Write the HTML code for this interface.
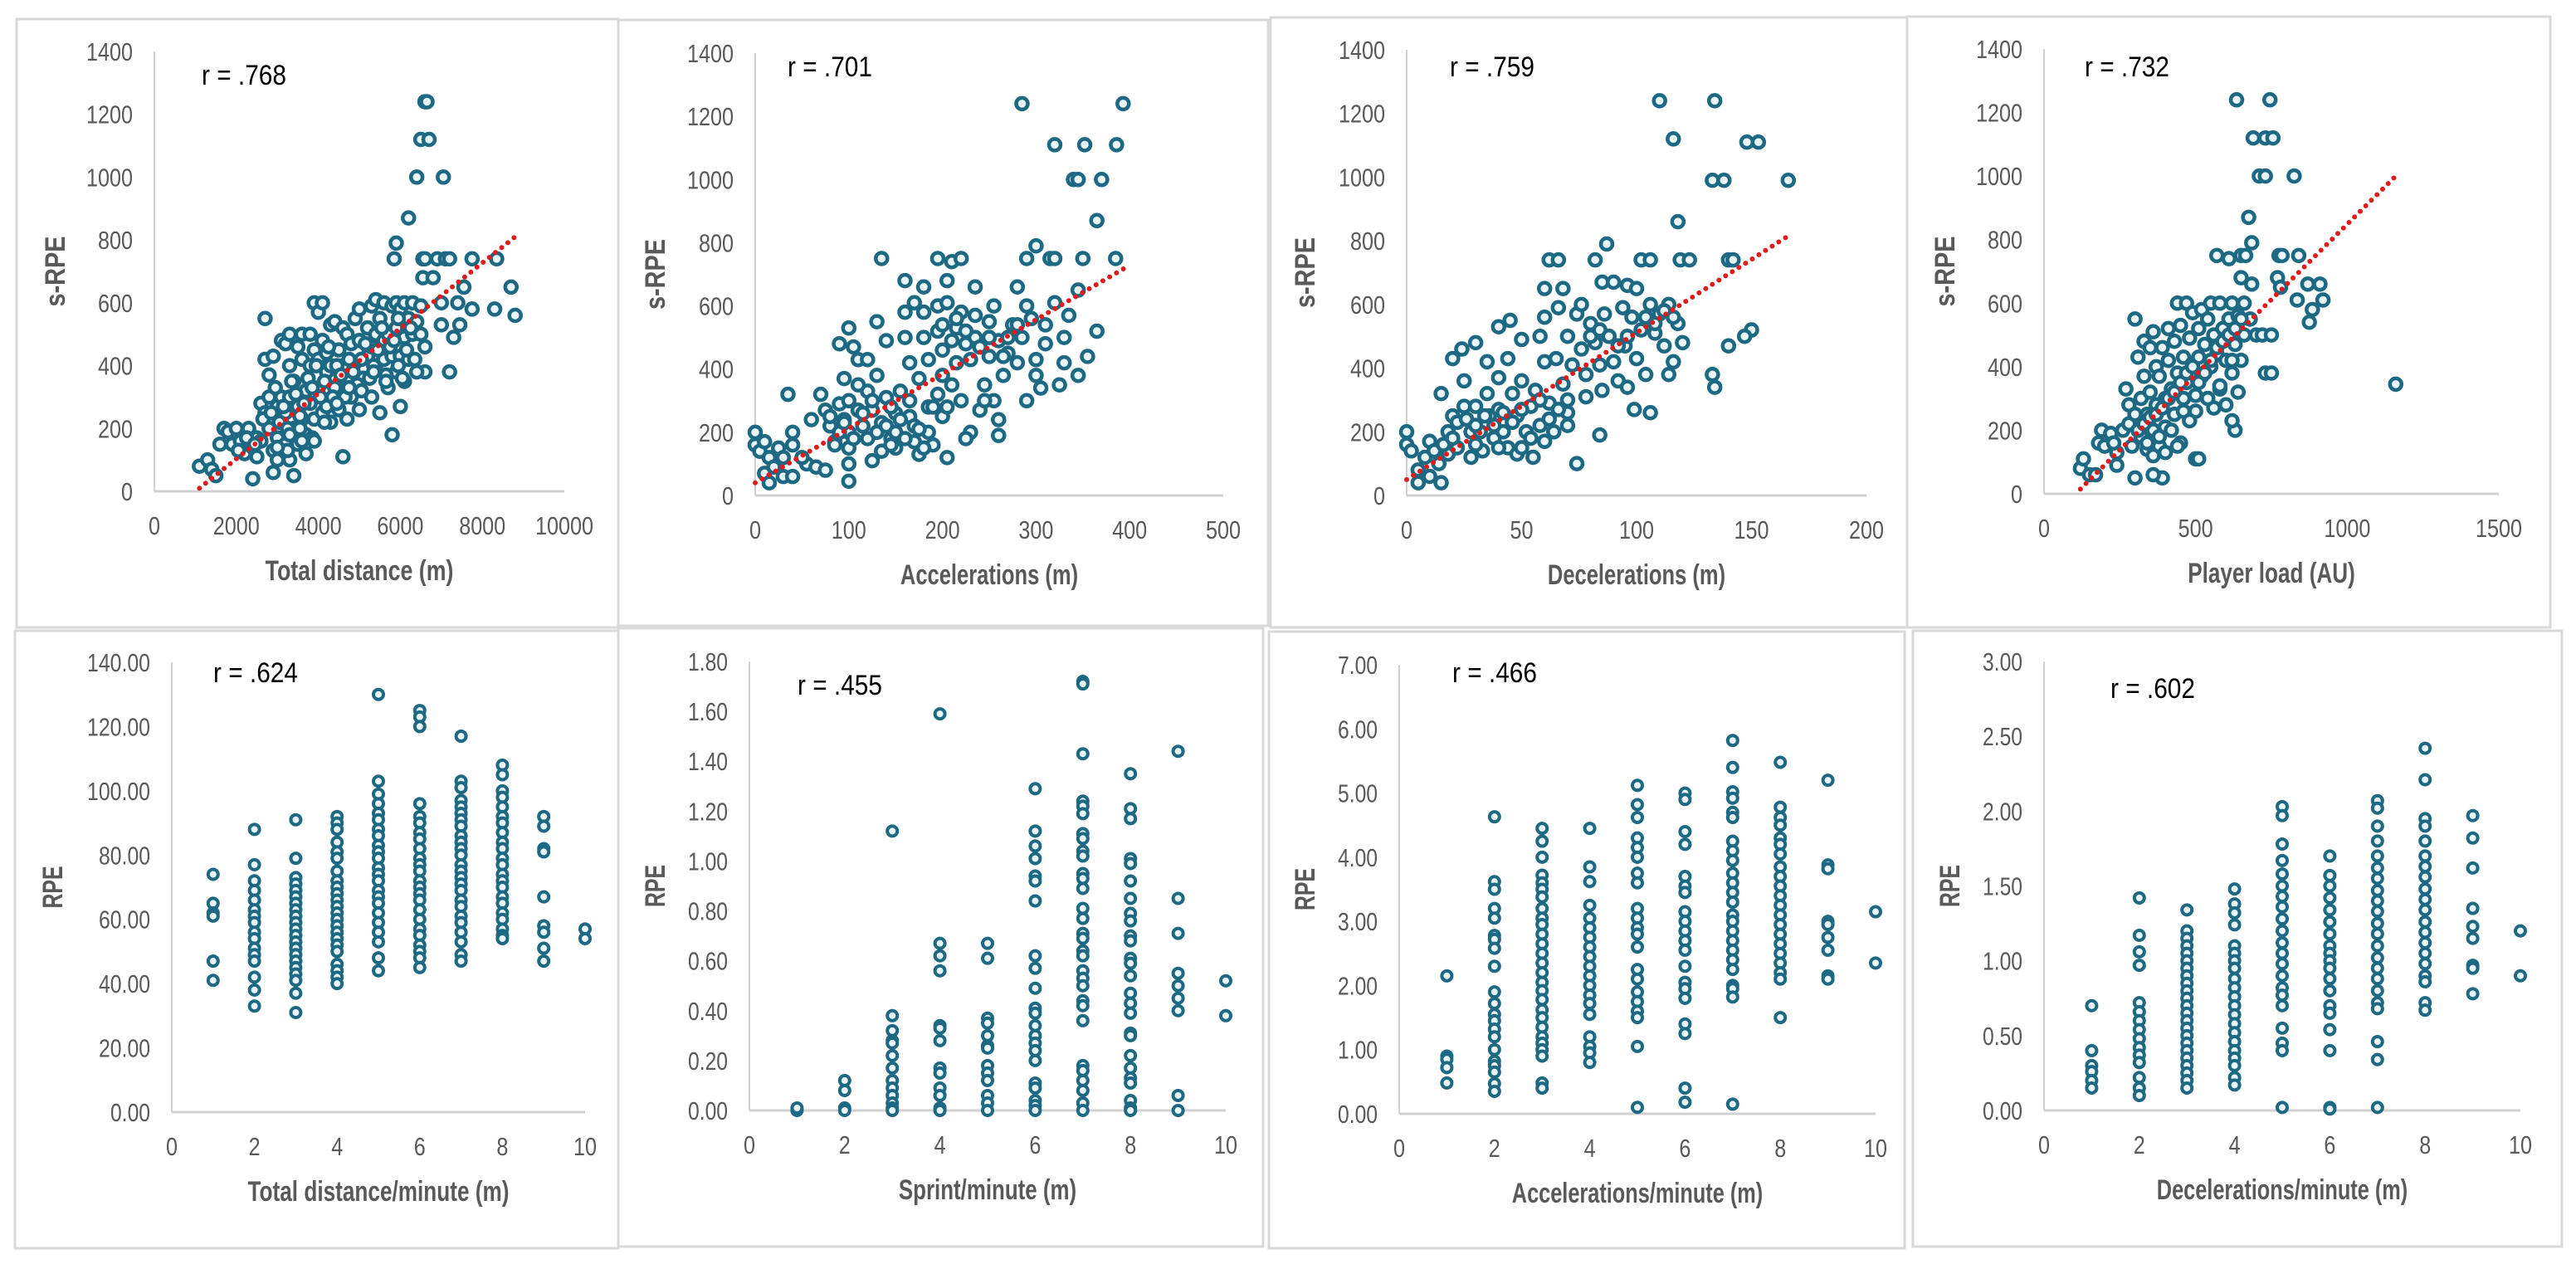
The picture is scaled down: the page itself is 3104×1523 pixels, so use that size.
<!DOCTYPE html>
<html><head><meta charset="utf-8">
<style>
html,body{margin:0;padding:0;background:#fff;}
svg{display:block;}
text{font-family:"Liberation Sans",sans-serif;}
</style></head>
<body>
<svg id="fig" width="3104" height="1523" viewBox="0 0 3104 1523" xmlns="http://www.w3.org/2000/svg"></svg>
<script>
// ---------- Panel 1: Total distance ----------
const p1X = [6600,6650,6500,6700,6400,7050,6200,5900,5850,6550,6600,6900,7100,7200,7750,8350,6550,6800,7550,8700,7000,7400,7750,8300,8800,7450,7000,7300,6600,6600,7200,5800,4600,2700,1100,1300,1400,1500,1700,1600,
1800,1900,2000,2100,2200,2300,2400,2400,2500,2500,2600,2600,2700,2700,2800,2800,2800,2900,2900,2900,3000,3000,3000,3100,3100,3100,3200,3200,3200,3300,3300,3300,3300,3400,3400,3400,3500,3500,3500,3600,3600,3600,3700,3700,3700,3800,3800,3800,3900,3900,3900,4000,4000,4000,4100,4100,4100,4200,4200,4200,4300,4300,4300,4400,4400,4500,4500,4600,4600,4700,4700,4700,4800,4800,4900,4900,5000,5000,5000,5100,5200,5200,5300,5300,5300,5400,5400,5400,5500,5500,5600,5600,5600,5700,5700,5800,5800,5900,5900,5900,6000,6000,6000,6100,6100,6100,6200,6200,6300,6300,6400,6400,6500,6500,
2050,2250,2450,2650,2850,2950,3050,3150,3250,3350,3450,3550,3650,3750,3850,3950,4050,4150,4250,4350,4450,4550,4650,4750,4850,4950,5050,5150,5250,5350,5450,5550,5650,5750,5850,5950,6050,6150,6250,6350,3250,3550,3850,4150,4450,4750,5050,5350,5650,5950,3000,3300,3600,3900];
const p1Y = [1240,1240,1120,1120,1000,1000,870,790,740,740,740,740,740,740,740,740,680,680,650,650,600,600,580,580,560,530,530,490,460,380,380,180,110,550,80,100,70,50,200,150,
190,150,200,160,120,200,40,140,170,110,280,160,420,250,370,300,200,430,130,60,270,170,100,480,300,220,470,250,150,500,400,300,100,350,200,50,460,270,150,500,420,230,320,180,120,500,400,280,600,450,230,570,420,330,600,480,250,440,380,270,530,400,220,540,330,450,260,520,400,500,350,230,470,300,550,410,580,480,260,360,520,430,590,460,300,610,500,400,550,250,600,480,420,500,330,590,430,600,520,380,580,430,270,600,490,350,550,420,600,500,540,380,500,590,
130,170,150,230,250,330,220,270,200,350,310,240,280,360,330,400,300,350,460,300,400,370,300,420,380,340,420,470,360,400,450,520,370,460,480,550,360,450,520,420,130,200,170,220,280,330,320,380,350,400,140,180,160,160];
const p1Trend = [[1100,10],[8800,810]];
const p1XTicks = [0,2000,4000,6000,8000,10000];
const p1YTicks = [0,200,400,600,800,1000,1200,1400];

// ---------- Panel 2: Accelerations ----------
const p2X = [285,393,320,352,386,340,345,370,365,300,135,195,210,220,290,315,320,350,385,160,205,180,235,280,345,365,355,345,325,305,0,0,5,10,15,10,15,25,30,35,40,40,40,55,60,65,75,100,100,
70,75,80,85,90,90,95,100,100,100,100,105,110,110,115,120,120,120,125,125,130,130,135,140,140,145,150,150,155,160,160,165,165,170,170,175,175,180,180,185,185,190,195,195,200,200,200,205,205,210,215,215,220,220,225,230,230,235,235,240,245,250,250,255,255,260,260,260,265,270,275,280,285,290,290,295,300,300,310,320,330,330,335,
80,90,95,105,110,115,125,130,140,145,150,155,160,165,170,180,185,190,195,200,210,215,225,240,250,265,270,280,310,20,30,50,85,95,135,145,175,205,225,245];
const p2Y = [1240,1240,1110,1110,1110,1000,1000,1000,870,790,750,750,740,750,750,750,750,750,750,680,680,660,660,660,650,520,440,380,350,340,200,160,140,170,120,70,40,150,60,320,200,160,60,100,240,90,80,45,100,
320,270,220,170,290,480,370,530,300,200,150,470,430,270,220,430,330,180,270,110,550,380,230,490,310,180,260,150,330,580,500,420,250,610,170,130,370,580,500,430,280,160,600,520,460,380,250,610,120,350,530,420,580,300,480,200,430,570,500,270,350,550,440,600,300,490,240,190,380,450,540,420,500,600,300,560,430,380,540,610,500,420,570,
250,200,240,180,350,260,300,200,220,280,200,240,180,300,220,150,200,280,320,540,490,560,520,470,500,440,500,540,480,90,120,120,160,230,140,160,210,280,180,300];
const p2Trend = [[0,40],[395,720]];
const p2XTicks = [0,100,200,300,400,500];
const p2YTicks = [0,200,400,600,800,1000,1200,1400];

// ---------- Panel 3: Decelerations ----------
const p3X = [110,134,116,148,153,133,138,166,118,87,62,66,82,102,106,119,123,140,142,60,68,85,90,96,100,150,147,140,133,134,74,84,106,99,40,45,0,0,2,5,5,10,15,15,
8,10,14,18,18,20,20,22,24,25,25,28,28,30,30,32,33,35,35,36,38,40,40,42,44,44,46,48,48,50,50,52,54,55,56,58,58,60,60,62,64,65,66,68,70,70,72,74,76,76,78,78,80,82,84,85,86,88,90,92,94,95,96,98,100,102,104,106,108,110,112,114,116,118,120,114,
12,16,22,26,30,34,38,42,46,50,54,58,62,66,70,80,84,88,92,96,104,108,112,116,20,30,40,50,60,70];
const p3Y = [1240,1240,1120,1110,1110,990,990,990,860,790,740,740,740,740,740,740,740,740,740,650,650,670,670,660,650,520,500,470,380,340,100,190,260,270,530,550,200,160,140,80,40,60,40,320,
120,170,100,200,130,430,250,150,460,360,280,200,120,480,280,200,140,420,320,250,180,370,270,200,430,150,320,250,130,490,360,200,280,120,330,500,220,560,420,290,200,430,590,350,500,260,410,570,600,460,380,310,540,480,410,330,570,500,420,360,590,470,340,560,430,520,380,600,510,570,470,600,420,540,480,380,
140,160,230,240,220,250,220,260,230,270,180,300,240,270,300,500,520,500,470,500,560,540,580,560,180,160,150,150,170,220];
const p3Trend = [[0,50],[167,820]];
const p3XTicks = [0,50,100,150,200];
const p3YTicks = [0,200,400,600,800,1000,1200,1400];

// ---------- Panel 4: Player load ----------
const p4X = [635,745,690,730,755,710,730,825,675,685,570,610,650,665,775,785,840,650,685,770,780,835,870,910,885,920,875,1160,500,300,120,130,150,170,180,190,220,240,240,280,300,270,390,360,510,
200,230,260,280,290,300,310,320,320,330,330,340,340,350,350,360,360,370,370,380,380,390,400,400,410,410,420,430,430,440,440,450,450,460,460,470,470,480,480,490,490,500,510,510,520,520,530,540,540,550,550,560,560,570,580,580,590,600,600,610,620,620,630,630,640,640,650,660,660,680,700,720,730,750,750,620,
310,330,350,370,390,410,430,450,470,490,510,530,550,570,590,610,630,650,340,380,420,460,500,540,580,620,360,400,440,480];
const p4Y = [1240,1240,1120,1120,1120,1000,1000,1000,870,790,750,740,750,750,750,750,750,680,660,680,650,610,660,660,580,610,540,345,110,550,80,110,60,60,160,200,190,90,130,280,50,330,50,60,110,
150,160,200,220,150,250,430,300,180,370,480,250,140,320,460,200,510,400,280,370,150,460,300,210,520,420,330,250,480,600,380,530,160,430,300,600,350,490,240,570,410,310,520,430,580,370,470,300,550,600,400,500,270,440,600,330,520,420,280,550,600,380,470,200,560,320,420,500,600,550,500,500,380,500,380,230,
200,220,240,250,270,300,320,350,380,400,350,380,420,460,480,500,520,550,160,180,200,260,260,300,340,420,120,130,150,230];
const p4Trend = [[120,15],[1160,1000]];
const p4XTicks = [0,500,1000,1500];
const p4YTicks = [0,200,400,600,800,1000,1200,1400];

// ---------- Panel 5: Total distance/minute ----------
const p5Cols = [1,2,3,4,5,6,7,8,9,10];
const p5Vals = [
 [74,65,62,61,47,41],
 [88,77,72,69,66,63,61,59,56,54,51,49,47,42,38,33],
 [91,79,73,71,69,67,65,63,61,59,57,55,53,51,49,47,45,43,41,37,31],
 [92,90,88,84,81,79,75,72,70,68,66,64,62,60,58,56,54,52,50,46,44,42,40],
 [130,103,99,96,93,91,88,86,83,81,79,76,74,72,69,67,65,62,59,56,53,48,44],
 [125,123,120,96,92,90,87,85,82,79,77,75,72,70,68,66,63,60,57,55,52,50,48,45],
 [117,103,101,97,95,93,91,89,86,84,82,80,77,75,73,71,69,66,64,61,59,56,53,49,47],
 [108,105,100,98,95,92,90,87,84,82,79,77,74,72,70,67,65,62,60,57,55,54],
 [92,89,82,81,67,58,56,51,47],
 [57,54]];
const p5XTicks = [0,2,4,6,8,10];
const p5YTicks = [0,20,40,60,80,100,120,140];

// ---------- Panel 6: Sprint/minute ----------
const p6Cols = [1,2,3,4,5,6,7,8,9,10];
const p6Vals = [
 [0,0.01],
 [0.12,0.08,0.01,0],
 [1.12,0.38,0.32,0.28,0.27,0.22,0.17,0.12,0.09,0.06,0.03,0.01,0],
 [1.59,0.67,0.62,0.56,0.34,0.33,0.28,0.17,0.15,0.09,0.06,0.01,0],
 [0.67,0.61,0.37,0.35,0.3,0.26,0.25,0.18,0.15,0.12,0.06,0.03,0],
 [1.29,1.12,1.06,1.01,0.94,0.92,0.84,0.62,0.57,0.49,0.41,0.39,0.34,0.3,0.27,0.24,0.2,0.11,0.09,0.04,0.02,0],
 [1.72,1.71,1.43,1.24,1.22,1.19,1.11,1.09,1.04,1.02,0.95,0.93,0.89,0.81,0.77,0.71,0.69,0.64,0.62,0.56,0.53,0.5,0.44,0.42,0.36,0.18,0.16,0.12,0.08,0.03,0],
 [1.35,1.21,1.17,1.01,0.99,0.92,0.85,0.79,0.76,0.7,0.68,0.61,0.59,0.54,0.47,0.43,0.39,0.31,0.3,0.22,0.17,0.13,0.11,0.04,0.01,0],
 [1.44,0.85,0.71,0.55,0.5,0.45,0.4,0.06,0],
 [0.52,0.38]];
const p6XTicks = [0,2,4,6,8,10];
const p6YTicks = [0,0.2,0.4,0.6,0.8,1.0,1.2,1.4,1.6,1.8];

// ---------- Panel 7: Accelerations/minute ----------
const p7Cols = [1,2,3,4,5,6,7,8,9,10];
const p7Vals = [
 [2.15,0.9,0.85,0.72,0.48],
 [4.63,3.62,3.5,3.2,3.05,2.78,2.72,2.58,2.3,1.9,1.72,1.55,1.45,1.32,1.2,1.0,0.82,0.75,0.65,0.47,0.35],
 [4.45,4.25,4.0,3.72,3.6,3.5,3.38,3.2,3.05,2.95,2.8,2.65,2.5,2.35,2.2,2.05,1.92,1.78,1.62,1.5,1.35,1.2,1.1,1.0,0.9,0.48,0.4],
 [4.45,3.85,3.62,3.25,3.05,2.9,2.75,2.6,2.45,2.3,2.15,2.0,1.85,1.72,1.55,1.2,1.05,0.95,0.8],
 [5.12,4.82,4.62,4.3,4.15,4.0,3.75,3.6,3.2,3.05,2.9,2.8,2.6,2.25,2.1,1.9,1.75,1.6,1.5,1.05,0.1],
 [5.0,4.9,4.4,4.2,3.7,3.55,3.45,3.15,3.0,2.85,2.7,2.55,2.3,2.05,1.95,1.8,1.4,1.25,0.4,0.18],
 [5.82,5.4,5.02,4.92,4.7,4.62,4.25,4.1,3.95,3.75,3.6,3.45,3.3,3.1,3.0,2.85,2.7,2.55,2.4,2.25,2.0,1.95,1.82,0.15],
 [5.48,4.78,4.62,4.5,4.3,4.2,4.05,3.85,3.7,3.55,3.4,3.25,3.1,2.95,2.8,2.65,2.5,2.35,2.2,2.1,1.5],
 [5.2,3.88,3.82,3.0,2.95,2.75,2.55,2.15,2.1],
 [3.15,2.35]];
const p7XTicks = [0,2,4,6,8,10];
const p7YTicks = [0,1,2,3,4,5,6,7];

// ---------- Panel 8: Decelerations/minute ----------
const p8Cols = [1,2,3,4,5,6,7,8,9,10];
const p8Vals = [
 [0.7,0.4,0.3,0.26,0.2,0.15],
 [1.42,1.17,1.06,0.97,0.72,0.66,0.6,0.54,0.48,0.42,0.37,0.32,0.22,0.15,0.1],
 [1.34,1.2,1.15,1.1,1.05,1.0,0.95,0.9,0.85,0.8,0.75,0.7,0.65,0.6,0.55,0.5,0.45,0.4,0.35,0.3,0.25,0.2,0.15],
 [1.48,1.38,1.32,1.24,1.1,1.05,1.0,0.95,0.88,0.82,0.76,0.7,0.64,0.58,0.52,0.46,0.4,0.35,0.3,0.22,0.17],
 [2.03,1.97,1.78,1.67,1.58,1.5,1.43,1.36,1.28,1.2,1.12,1.05,0.98,0.9,0.82,0.77,0.7,0.55,0.45,0.4,0.02],
 [1.7,1.57,1.5,1.42,1.34,1.26,1.18,1.1,1.05,1.0,0.95,0.88,0.8,0.7,0.65,0.54,0.4,0.02,0.01],
 [2.07,2.02,1.9,1.8,1.7,1.62,1.55,1.47,1.4,1.33,1.25,1.18,1.1,1.02,0.95,0.88,0.8,0.72,0.68,0.46,0.34,0.02],
 [2.42,2.21,1.95,1.9,1.8,1.7,1.63,1.56,1.48,1.41,1.34,1.26,1.19,1.12,1.05,0.98,0.9,0.86,0.72,0.67],
 [1.97,1.82,1.62,1.35,1.23,1.15,0.97,0.95,0.78],
 [1.2,0.9]];
const p8XTicks = [0,2,4,6,8,10];
const p8YTicks = [0,0.5,1.0,1.5,2.0,2.5,3.0];

const NS = "http://www.w3.org/2000/svg";
const svgRoot = document.getElementById('fig');
function mk(tag, attrs, parent){
  const e = document.createElementNS(NS, tag);
  for (const k in attrs) e.setAttribute(k, attrs[k]);
  (parent||svgRoot).appendChild(e);
  return e;
}
function flat(cols, vals){
  const xs=[], ys=[];
  cols.forEach((c,i)=>vals[i].forEach(v=>{xs.push(c); ys.push(v);}));
  return [xs, ys];
}

function panel(cfg){
  const g = mk('g', {});
  
  
  const b = cfg.border;
  const fr = mk('rect', {x:b[0], y:b[1], width:b[2]-b[0], height:b[3]-b[1], fill:'none', stroke:'#d9d9d9', 'stroke-width':3}, g);
  
  
  const xMin = cfg.xTicks[0], xMax = cfg.xTicks[cfg.xTicks.length-1];
  const yMin = cfg.yTicks[0], yMax = cfg.yTicks[cfg.yTicks.length-1];
  const sx = v => cfg.x0 + (v - xMin) / (xMax - xMin) * (cfg.x1 - cfg.x0);
  const sy = v => cfg.y0 - (v - yMin) / (yMax - yMin) * (cfg.y0 - cfg.y1);
  const ya = mk('line', {x1:cfg.x0, y1:cfg.y1, x2:cfg.x0, y2:cfg.y0, stroke:'#d0d0d0', 'stroke-width':2}, g);
  
  
  const xa = mk('line', {x1:cfg.x0, y1:cfg.y0, x2:cfg.x1, y2:cfg.y0, stroke:'#d0d0d0', 'stroke-width':3}, g);
  
  
  cfg.xTicks.forEach(t=>{
    const s = String(t);
    const tx = mk('text', {x:sx(t), y:cfg.y0+52, 'text-anchor':'middle', 'font-size':31, fill:'#595959', textLength:s.length*14, lengthAdjust:'spacingAndGlyphs'}, g);
    tx.textContent = s;
    
    
  });
  cfg.yTicks.forEach(t=>{
    const s = t.toFixed(cfg.yDec);
    const w = s.replace('.','').length*14 + (s.indexOf('.')>=0?6:0);
    const tx = mk('text', {x:cfg.x0-26, y:sy(t)+11, 'text-anchor':'end', 'font-size':31, fill:'#595959', textLength:w, lengthAdjust:'spacingAndGlyphs'}, g);
    tx.textContent = s;
    
    
  });
  const xt = mk('text', {x:(cfg.x0+cfg.x1)/2, y:cfg.y0+107, 'text-anchor':'middle', 'font-size':34, 'font-weight':'bold', fill:'#595959', textLength:cfg.xTitle.length*12.6, lengthAdjust:'spacingAndGlyphs'}, g);
  xt.textContent = cfg.xTitle;
  
  
  const ycx = cfg.x0 - cfg.yTitleOff, ycy = (cfg.y0+cfg.y1)/2;
  const yt = mk('text', {x:ycx, y:ycy, 'text-anchor':'middle', 'font-size':34, 'font-weight':'bold', fill:'#595959', transform:`rotate(-90 ${ycx} ${ycy})`, textLength:cfg.yTitle.length*17, lengthAdjust:'spacingAndGlyphs'}, g);
  yt.textContent = cfg.yTitle;
  
  
  const rt = mk('text', {x:cfg.rPos[0], y:cfg.rPos[1], 'font-size':34, fill:'#000', textLength:102, lengthAdjust:'spacingAndGlyphs'}, g);
  rt.textContent = cfg.rText;
  
  
  const pg = mk('g', {}, g);
  
  
  for (let i=0;i<cfg.xs.length;i++){
    const c = mk('circle', {cx:sx(cfg.xs[i]), cy:sy(cfg.ys[i]), r:cfg.r, fill:'#eaf6fa', stroke:'#1d6882', 'stroke-width':cfg.sw}, pg);
    
    
  }
  if (cfg.trend){
    const t = cfg.trend;
    const ln = mk('line', {x1:sx(t[0][0]), y1:sy(t[0][1]), x2:sx(t[1][0]), y2:sy(t[1][1]), stroke:'#e01b1b', 'stroke-width':6, 'stroke-linecap':'round', 'stroke-dasharray':'0 9.5'}, g);
    
    
  }
}

const topCfg = {yDec:0, r:7, sw:4.5, yTitle:'s-RPE'};
panel(Object.assign({}, topCfg, {name:'chart-total-distance', border:[20,23,745,756], x0:186, x1:680, y0:592, y1:62, xTicks:p1XTicks, yTicks:p1YTicks, xs:p1X, ys:p1Y, trend:p1Trend, xTitle:'Total distance (m)', yTitleOff:108, rText:'r = .768', rPos:[243,102]}));
panel(Object.assign({}, topCfg, {name:'chart-accelerations', border:[745,24,1528,754], x0:910, x1:1474, y0:597, y1:64, xTicks:p2XTicks, yTicks:p2YTicks, xs:p2X, ys:p2Y, trend:p2Trend, xTitle:'Accelerations (m)', yTitleOff:109, rText:'r = .701', rPos:[949,92]}));
panel(Object.assign({}, topCfg, {name:'chart-decelerations', border:[1531,21,2298,756], x0:1695, x1:2249, y0:597, y1:60, xTicks:p3XTicks, yTicks:p3YTicks, xs:p3X, ys:p3Y, trend:p3Trend, xTitle:'Decelerations (m)', yTitleOff:111, rText:'r = .759', rPos:[1747,92]}));
panel(Object.assign({}, topCfg, {name:'chart-player-load', border:[2298,20,3073,756], x0:2463, x1:3011, y0:595, y1:59, xTicks:p4XTicks, yTicks:p4YTicks, xs:p4X, ys:p4Y, trend:p4Trend, xTitle:'Player load (AU)', yTitleOff:108, rText:'r = .732', rPos:[2512,92]}));

const botCfg = {yDec:2, r:6, sw:4, yTitle:'RPE'};
let f;
f = flat(p5Cols, p5Vals);
panel(Object.assign({}, botCfg, {name:'chart-total-distance-per-minute', border:[18,760,745,1504], x0:207, x1:705, y0:1340, y1:798, xTicks:p5XTicks, yTicks:p5YTicks, xs:f[0], ys:f[1], xTitle:'Total distance/minute (m)', yTitleOff:132, rText:'r = .624', rPos:[257,822]}));
f = flat(p6Cols, p6Vals);
panel(Object.assign({}, botCfg, {name:'chart-sprint-per-minute', border:[745,757,1522,1502], x0:903, x1:1477, y0:1338, y1:797, xTicks:p6XTicks, yTicks:p6YTicks, xs:f[0], ys:f[1], xTitle:'Sprint/minute (m)', yTitleOff:102, rText:'r = .455', rPos:[961,837]}));
f = flat(p7Cols, p7Vals);
panel(Object.assign({}, botCfg, {name:'chart-accelerations-per-minute', border:[1529,761,2295,1504], x0:1686, x1:2260, y0:1342, y1:801, xTicks:p7XTicks, yTicks:p7YTicks, xs:f[0], ys:f[1], xTitle:'Accelerations/minute (m)', yTitleOff:102, rText:'r = .466', rPos:[1750,822]}));
f = flat(p8Cols, p8Vals);
panel(Object.assign({}, botCfg, {name:'chart-decelerations-per-minute', border:[2305,760,3087,1502], x0:2463, x1:3037, y0:1338, y1:797, xTicks:p8XTicks, yTicks:p8YTicks, xs:f[0], ys:f[1], xTitle:'Decelerations/minute (m)', yTitleOff:102, rText:'r = .602', rPos:[2543,841]}));
</script>
</body></html>
